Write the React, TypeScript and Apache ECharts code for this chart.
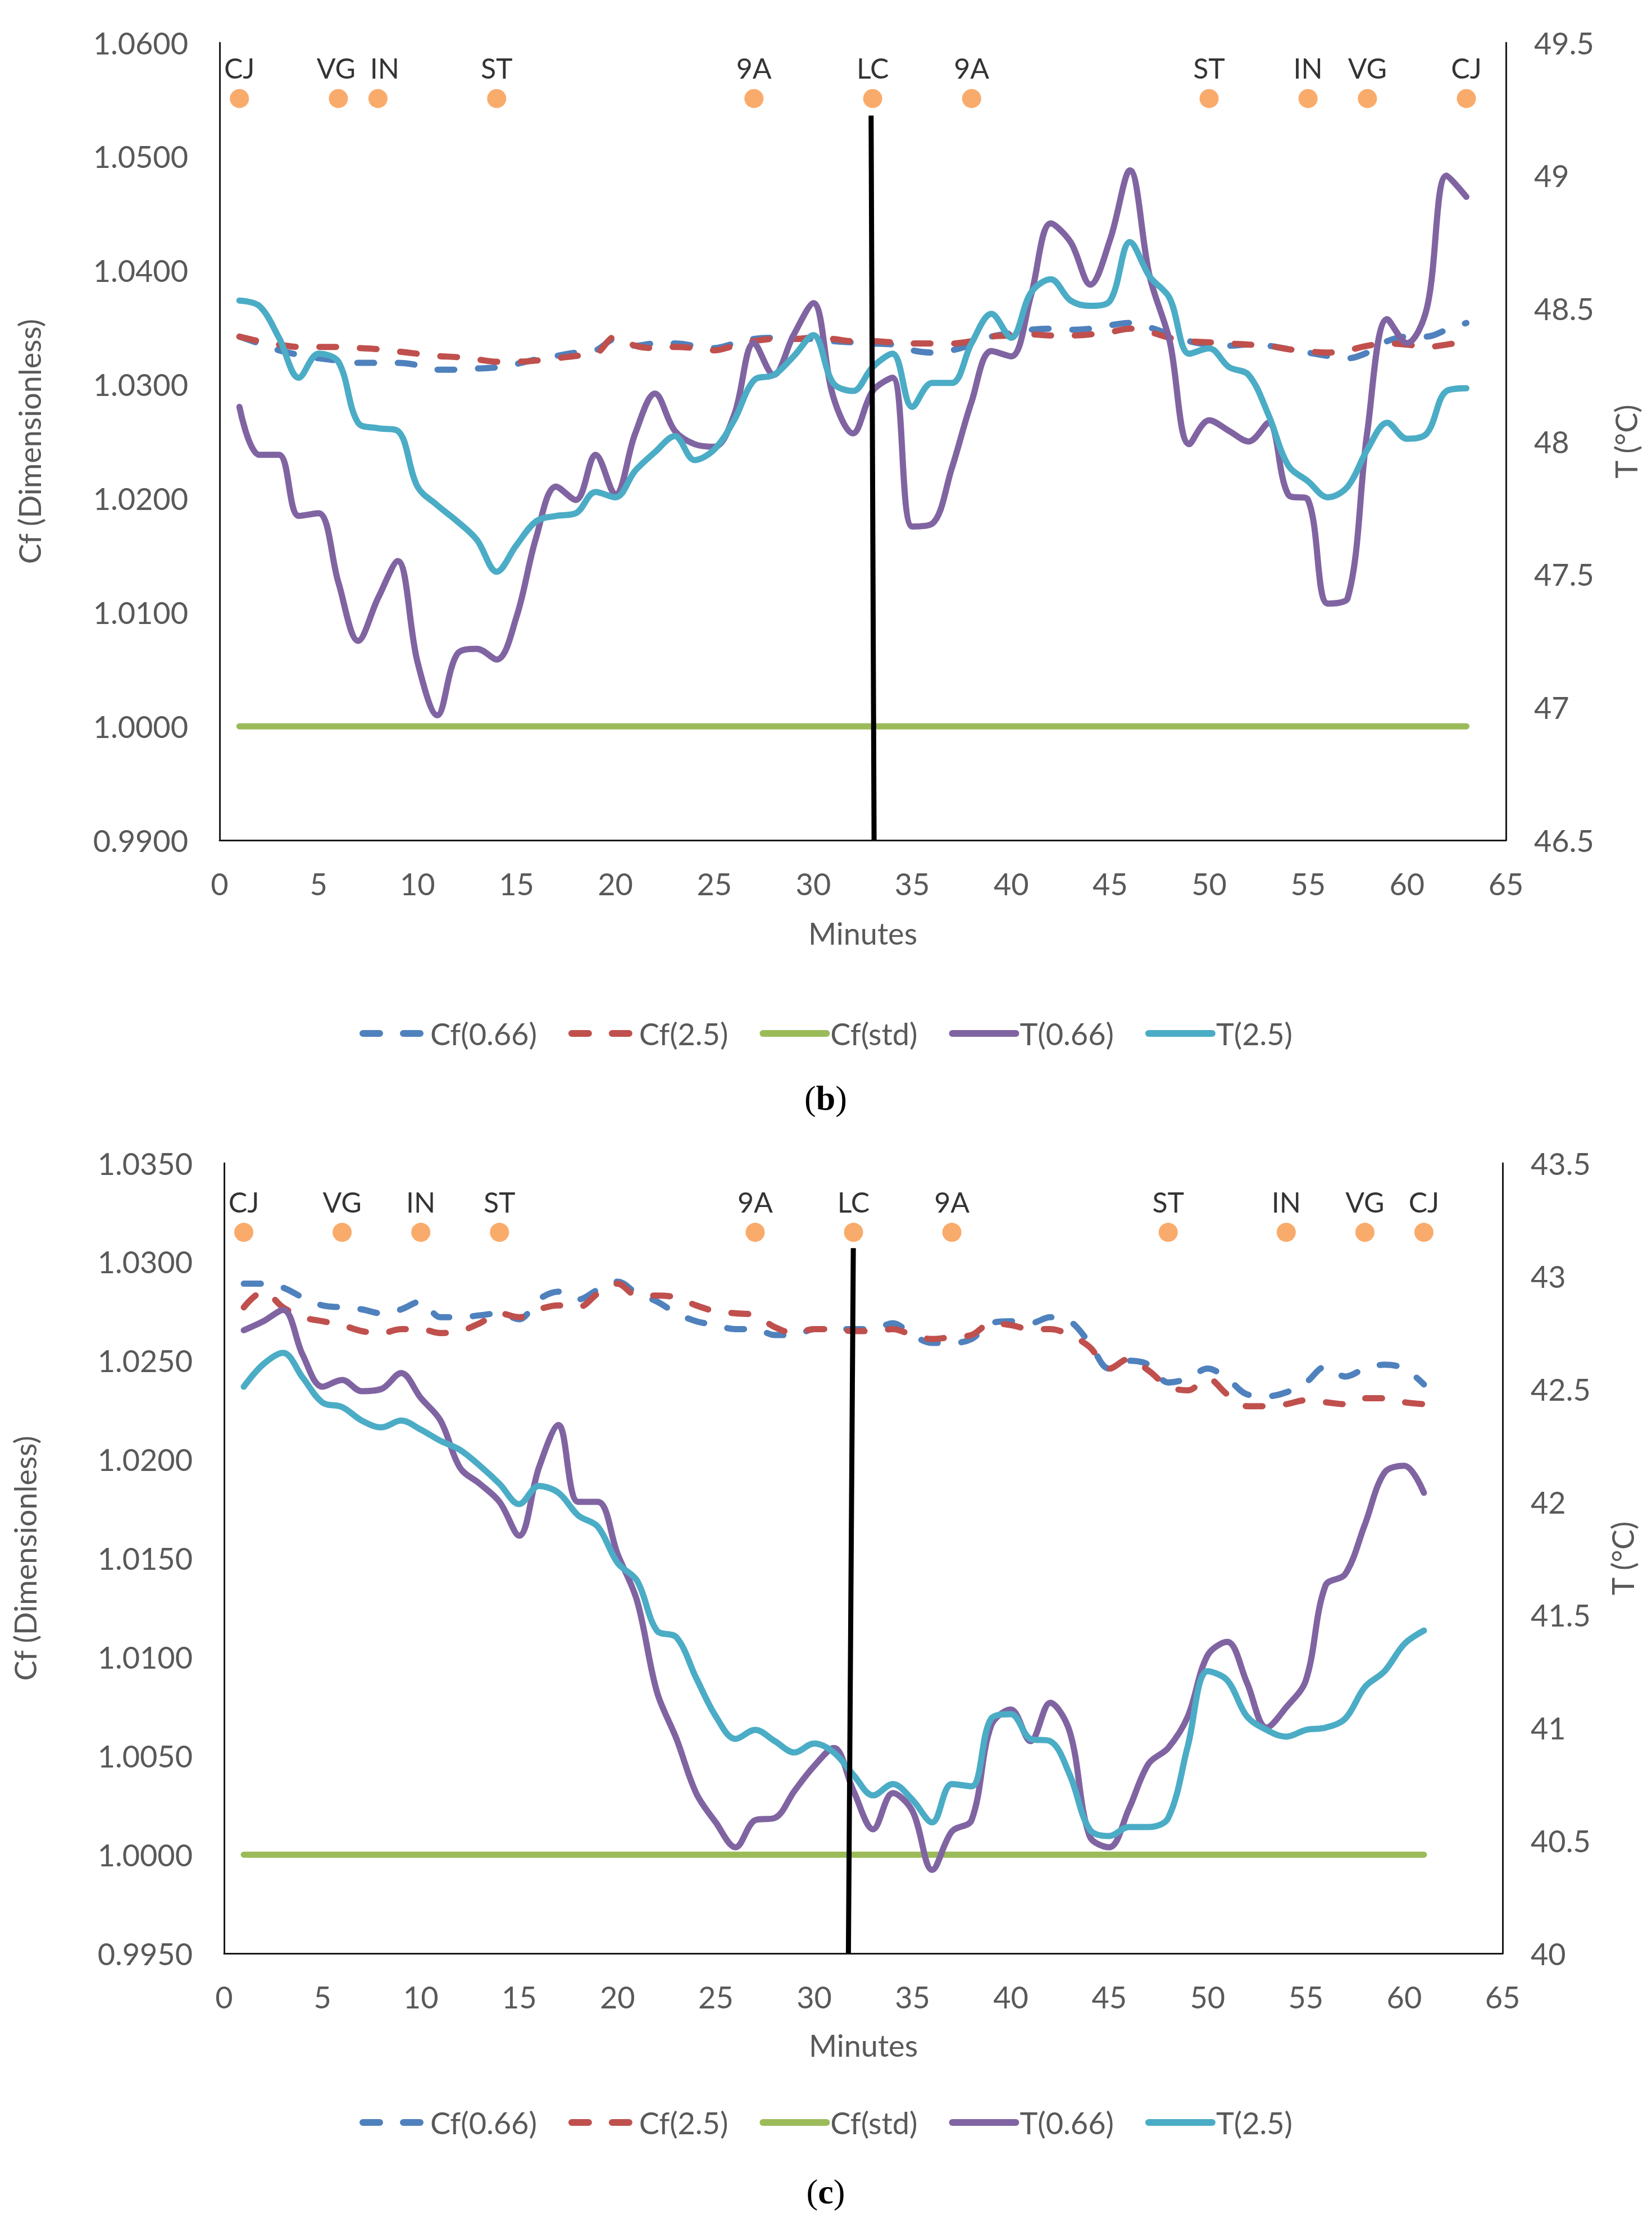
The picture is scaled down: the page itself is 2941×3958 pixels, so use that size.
import { useEffect, useRef } from "react";
import * as echarts from "echarts";

// minutes along the route
const minutesB = Array.from({ length: 63 }, (_, i) => i + 1);
const minutesC = Array.from({ length: 61 }, (_, i) => i + 1);

// panel (b)
const cf066B = [
  1.0342, 1.0336, 1.0330, 1.0326, 1.0323, 1.0321, 1.0319, 1.0319, 1.0319, 1.0317,
  1.0313, 1.0313, 1.0314, 1.0315, 1.0318, 1.0322, 1.0325, 1.0328, 1.0330, 1.0340,
  1.0334, 1.0336, 1.0336, 1.0334, 1.0332, 1.0336, 1.0340, 1.0341, 1.0340, 1.0340,
  1.0338, 1.0337, 1.0336, 1.0335, 1.0330, 1.0328, 1.0330, 1.0335, 1.0342, 1.0345,
  1.0348, 1.0349, 1.0348, 1.0349, 1.0352, 1.0354, 1.0350, 1.0344, 1.0338, 1.0335,
  1.0334, 1.0335, 1.0334, 1.0331, 1.0328, 1.0325, 1.0323, 1.0328, 1.0338, 1.0342,
  1.0342, 1.0348, 1.0354,
];
const cf25B = [
  1.0342, 1.0338, 1.0335, 1.0333, 1.0333, 1.0333, 1.0332, 1.0331, 1.0329, 1.0327,
  1.0325, 1.0324, 1.0322, 1.0320, 1.0320, 1.0321, 1.0323, 1.0325, 1.0327, 1.0342,
  1.0334, 1.0332, 1.0333, 1.0332, 1.0330, 1.0334, 1.0338, 1.0340, 1.0340, 1.0341,
  1.0340, 1.0338, 1.0338, 1.0337, 1.0336, 1.0336, 1.0336, 1.0338, 1.0342, 1.0343,
  1.0344, 1.0343, 1.0343, 1.0344, 1.0346, 1.0349, 1.0346, 1.0341, 1.0338, 1.0337,
  1.0336, 1.0335, 1.0334, 1.0331, 1.0329, 1.0328, 1.0330, 1.0334, 1.0336, 1.0335,
  1.0333, 1.0335, 1.0338,
];
const t066B = [
  48.13, 47.95, 47.95, 47.72, 47.73, 47.47, 47.25, 47.41, 47.55, 47.17,
  46.97, 47.20, 47.22, 47.18, 47.34, 47.64, 47.83, 47.78, 47.95, 47.80,
  48.03, 48.18, 48.04, 47.99, 47.98, 48.10, 48.37, 48.25, 48.40, 48.52,
  48.17, 48.03, 48.19, 48.24, 47.68, 47.69, 47.90, 48.15, 48.34, 48.32,
  48.55, 48.82, 48.75, 48.59, 48.76, 49.02, 48.62, 48.38, 47.99, 48.08,
  48.04, 48.00, 48.07, 47.80, 47.78, 47.39, 47.41, 48.04, 48.46, 48.37,
  48.50, 49.00, 48.92,
];
const t25B = [
  48.53, 48.51, 48.39, 48.24, 48.33, 48.30, 48.07, 48.05, 48.04, 47.83,
  47.76, 47.70, 47.63, 47.51, 47.61, 47.70, 47.72, 47.73, 47.81, 47.79,
  47.89, 47.96, 48.02, 47.93, 47.97, 48.08, 48.23, 48.25, 48.32, 48.40,
  48.22, 48.19, 48.28, 48.33, 48.13, 48.22, 48.22, 48.37, 48.48, 48.39,
  48.56, 48.61, 48.53, 48.51, 48.53, 48.75, 48.62, 48.54, 48.33, 48.35,
  48.28, 48.25, 48.10, 47.91, 47.85, 47.79, 47.83, 47.97, 48.07, 48.01,
  48.03, 48.19, 48.20,
];
const stationNamesB = ["CJ", "VG", "IN", "ST", "9A", "LC", "9A", "ST", "IN", "VG", "CJ"];
const stationMinB = [1, 6, 8, 14, 27, 33, 38, 50, 55, 58, 63];
const stationCfB = 1.0551;
const lcLineB = [[32.92, 1.0536], [33.07, 0.99]];

// panel (c)
const cf066C = [
  1.0289, 1.0289, 1.0287, 1.0282, 1.0278, 1.0277, 1.0276, 1.0274, 1.0276, 1.0280,
  1.0272, 1.0272, 1.0273, 1.0274, 1.0271, 1.0281, 1.0285, 1.0281, 1.0286, 1.0290,
  1.0284, 1.0280, 1.0274, 1.0270, 1.0268, 1.0266, 1.0266, 1.0263, 1.0263, 1.0266,
  1.0266, 1.0266, 1.0266, 1.0269, 1.0263, 1.0259, 1.0259, 1.0261, 1.0269, 1.0270,
  1.0269, 1.0272, 1.0270, 1.0259, 1.0246, 1.0250, 1.0248, 1.0239, 1.0241, 1.0246,
  1.0241, 1.0233, 1.0232, 1.0234, 1.0239, 1.0247, 1.0242, 1.0246, 1.0248, 1.0246,
  1.0238,
];
const cf25C = [
  1.0277, 1.0285, 1.0277, 1.0272, 1.0270, 1.0268, 1.0265, 1.0264, 1.0266, 1.0266,
  1.0264, 1.0265, 1.0269, 1.0274, 1.0272, 1.0276, 1.0278, 1.0277, 1.0284, 1.0289,
  1.0283, 1.0283, 1.0282, 1.0278, 1.0275, 1.0274, 1.0273, 1.0267, 1.0264, 1.0266,
  1.0266, 1.0265, 1.0265, 1.0266, 1.0263, 1.0261, 1.0262, 1.0263, 1.0269, 1.0268,
  1.0266, 1.0266, 1.0263, 1.0257, 1.0246, 1.0251, 1.0245, 1.0237, 1.0235, 1.0241,
  1.0233, 1.0227, 1.0227, 1.0228, 1.0230, 1.0229, 1.0228, 1.0231, 1.0231, 1.0229,
  1.0228,
];
const t066C = [
  42.76, 42.80, 42.85, 42.65, 42.51, 42.54, 42.49, 42.50, 42.57, 42.46,
  42.36, 42.15, 42.08, 42.00, 41.85, 42.15, 42.34, 42.00, 42.00, 41.77,
  41.56, 41.16, 40.95, 40.71, 40.58, 40.47, 40.59, 40.60, 40.72, 40.83,
  40.91, 40.72, 40.55, 40.71, 40.63, 40.37, 40.54, 40.59, 41.01, 41.08,
  40.94, 41.11, 40.98, 40.52, 40.47, 40.64, 40.84, 40.91, 41.05, 41.32,
  41.38, 41.20, 41.00, 41.09, 41.21, 41.63, 41.68, 41.90, 42.13, 42.16,
  42.04,
];
const t25C = [
  42.51, 42.61, 42.66, 42.55, 42.44, 42.42, 42.36, 42.33, 42.36, 42.32,
  42.27, 42.23, 42.16, 42.08, 41.99, 42.07, 42.04, 41.94, 41.89, 41.73,
  41.65, 41.43, 41.40, 41.22, 41.05, 40.95, 40.99, 40.94, 40.89, 40.93,
  40.89, 40.79, 40.70, 40.75, 40.68, 40.58, 40.75, 40.74, 41.04, 41.06,
  40.95, 40.94, 40.79, 40.55, 40.52, 40.56, 40.56, 40.60, 40.92, 41.25,
  41.21, 41.05, 40.99, 40.96, 40.99, 41.00, 41.04, 41.18, 41.25, 41.37,
  41.43,
];
const stationNamesC = ["CJ", "VG", "IN", "ST", "9A", "LC", "9A", "ST", "IN", "VG", "CJ"];
const stationMinC = [1, 6, 10, 14, 27, 32, 37, 48, 54, 58, 61];
const stationCfC = 1.0315;
const lcLineC = [[31.99, 1.0307], [31.74, 0.995]];

const CF_STD = 1.0;
const seriesNames = ["Cf(0.66)", "Cf(2.5)", "Cf(std)", "T(0.66)", "T(2.5)"];
const seriesColors = ["#4F81BD", "#C0504D", "#9BBB59", "#8064A2", "#4BACC6"];

const FONT = "Lato, 'Open Sans', sans-serif";
const GREY = "#595959";
const FS = 54;

interface PanelCfg {
  idx: number;
  grid: { left: number; top: number; width: number; height: number };
  minutes: number[];
  cf066: number[];
  cf25: number[];
  t066: number[];
  t25: number[];
  cfRange: [number, number, number];
  tRange: [number, number, number];
  stationNames: string[];
  stationMin: number[];
  stationCf: number;
  labelShift?: Record<number, number>;
  lcLine: number[][];
  legendTop: number;
  xNameGap: number;
  yNameGap: number;
  tNameGap: number;
}

function panel(c: PanelCfg) {
  const axisLine = { show: true, lineStyle: { color: "#1a1a1a", width: 3 } };
  const label = { color: GREY, fontSize: FS, fontFamily: FONT };
  const nameStyle = { color: GREY, fontSize: FS, fontFamily: FONT };
  const left = c.idx * 2;
  const right = c.idx * 2 + 1;
  const zip = (vals: number[]) => c.minutes.map((m, i) => [m, vals[i]]);
  const dashed = { width: 11, type: [30, 42] as any, cap: "round" as const };
  const solid = { width: 11, cap: "round" as const };

  const line = (name: string, color: string, vals: number[], yi: number, ls: any, z: number) => ({
    name,
    type: "line",
    xAxisIndex: c.idx,
    yAxisIndex: yi,
    data: zip(vals),
    symbol: "none",
    showSymbol: false,
    smooth: 0.35,
    color,
    lineStyle: { ...ls, color },
    z,
  });

  return {
    grid: { ...c.grid, containLabel: false },
    xAxis: {
      type: "value",
      gridIndex: c.idx,
      min: 0,
      max: 65,
      interval: 5,
      axisLine,
      axisTick: { show: false },
      splitLine: { show: false },
      axisLabel: { ...label, margin: 50 },
      name: "Minutes",
      nameLocation: "middle",
      nameGap: c.xNameGap,
      nameTextStyle: nameStyle,
    },
    yAxis: [
      {
        type: "value",
        gridIndex: c.idx,
        position: "left",
        min: c.cfRange[0],
        max: c.cfRange[1],
        interval: c.cfRange[2],
        axisLine,
        axisTick: { show: false },
        splitLine: { show: false },
        axisLabel: { ...label, margin: 56, formatter: (v: number) => v.toFixed(4) },
        name: "Cf (Dimensionless)",
        nameLocation: "middle",
        nameRotate: 90,
        nameGap: c.yNameGap,
        nameTextStyle: nameStyle,
      },
      {
        type: "value",
        gridIndex: c.idx,
        position: "right",
        min: c.tRange[0],
        max: c.tRange[1],
        interval: c.tRange[2],
        axisLine,
        axisTick: { show: false },
        splitLine: { show: false },
        axisLabel: { ...label, margin: 50, formatter: (v: number) => `${Math.round(v * 10) / 10}` },
        name: "T (°C)",
        nameLocation: "middle",
        nameRotate: 90,
        nameGap: c.tNameGap,
        nameTextStyle: nameStyle,
      },
    ],
    series: [
      line(seriesNames[0], seriesColors[0], c.cf066, left, dashed, 2),
      line(seriesNames[1], seriesColors[1], c.cf25, left, dashed, 3),
      line(seriesNames[2], seriesColors[2], c.minutes.map(() => CF_STD), left, solid, 4),
      line(seriesNames[3], seriesColors[3], c.t066, right, solid, 5),
      line(seriesNames[4], seriesColors[4], c.t25, right, solid, 6),
      {
        name: "stations",
        type: "scatter",
        xAxisIndex: c.idx,
        yAxisIndex: left,
        symbol: "circle",
        symbolSize: 34,
        itemStyle: { color: "#F79646" },
        data: c.stationMin.map((m, i) => ({
          value: [m, c.stationCf],
          name: c.stationNames[i],
          label: c.labelShift && c.labelShift[i] ? { offset: [c.labelShift[i], 0] } : undefined,
        })),
        label: {
          show: true,
          position: "top",
          distance: 12,
          formatter: "{b}",
          color: "#000",
          fontSize: 50,
          fontFamily: FONT,
        },
        z: 8,
      },
      {
        name: "LC",
        type: "line",
        xAxisIndex: c.idx,
        yAxisIndex: left,
        data: c.lcLine,
        symbol: "none",
        color: "#000",
        lineStyle: { color: "#000", width: 9 },
        z: 9,
      },
    ],
    legend: {
      data: seriesNames,
      top: c.legendTop,
      left: "center",
      itemWidth: 113,
      itemHeight: 14,
      itemGap: 56,
      selectedMode: false,
      itemStyle: { opacity: 0 },
      lineStyle: { width: 12 },
      textStyle: { color: GREY, fontSize: FS, fontFamily: FONT, padding: [0, 0, 0, 2] },
    },
  };
}

export default function App() {
  const ref = useRef<HTMLDivElement>(null);

  useEffect(() => {
    if (!ref.current) return;
    document.body.style.margin = "0";

    const pb = panel({
      idx: 0,
      grid: { left: 391, top: 76, width: 2290, height: 1420 },
      minutes: minutesB,
      cf066: cf066B,
      cf25: cf25B,
      t066: t066B,
      t25: t25B,
      cfRange: [0.99, 1.06, 0.01],
      tRange: [46.5, 49.5, 0.5],
      stationNames: stationNamesB,
      stationMin: stationMinB,
      stationCf: stationCfB,
      labelShift: { 1: -4, 2: 12 },
      lcLine: lcLineB,
      legendTop: 1808,
      xNameGap: 138,
      yNameGap: 312,
      tNameGap: 186,
    });
    const pc = panel({
      idx: 1,
      grid: { left: 399, top: 2071, width: 2276, height: 1407 },
      minutes: minutesC,
      cf066: cf066C,
      cf25: cf25C,
      t066: t066C,
      t25: t25C,
      cfRange: [0.995, 1.035, 0.005],
      tRange: [40, 43.5, 0.5],
      stationNames: stationNamesC,
      stationMin: stationMinC,
      stationCf: stationCfC,
      lcLine: lcLineC,
      legendTop: 3747,
      xNameGap: 136,
      yNameGap: 328,
      tNameGap: 186,
    });

    const caption = (letter: string, y: number) => ({
      type: "text",
      x: 1470,
      y,
      style: {
        text: `{n|(}{b|${letter}}{n|)}`,
        align: "center",
        verticalAlign: "middle",
        rich: {
          n: { fontSize: 62, fontFamily: "'Liberation Serif', 'DejaVu Serif', serif", fill: "#000" },
          b: { fontSize: 62, fontWeight: "bold", fontFamily: "'Liberation Serif', 'DejaVu Serif', serif", fill: "#000" },
        },
      },
    });

    const chart = echarts.init(ref.current, undefined, { renderer: "svg" });
    chart.setOption({
      animation: false,
      backgroundColor: "#fff",
      grid: [pb.grid, pc.grid],
      xAxis: [pb.xAxis, pc.xAxis],
      yAxis: [...pb.yAxis, ...pc.yAxis],
      series: [...pb.series, ...pc.series],
      legend: [pb.legend, pc.legend],
      graphic: [caption("b", 1955), caption("c", 3902)],
    });

    return () => chart.dispose();
  }, []);

  return <div ref={ref} style={{ width: 2941, height: 3958 }} />;
}
